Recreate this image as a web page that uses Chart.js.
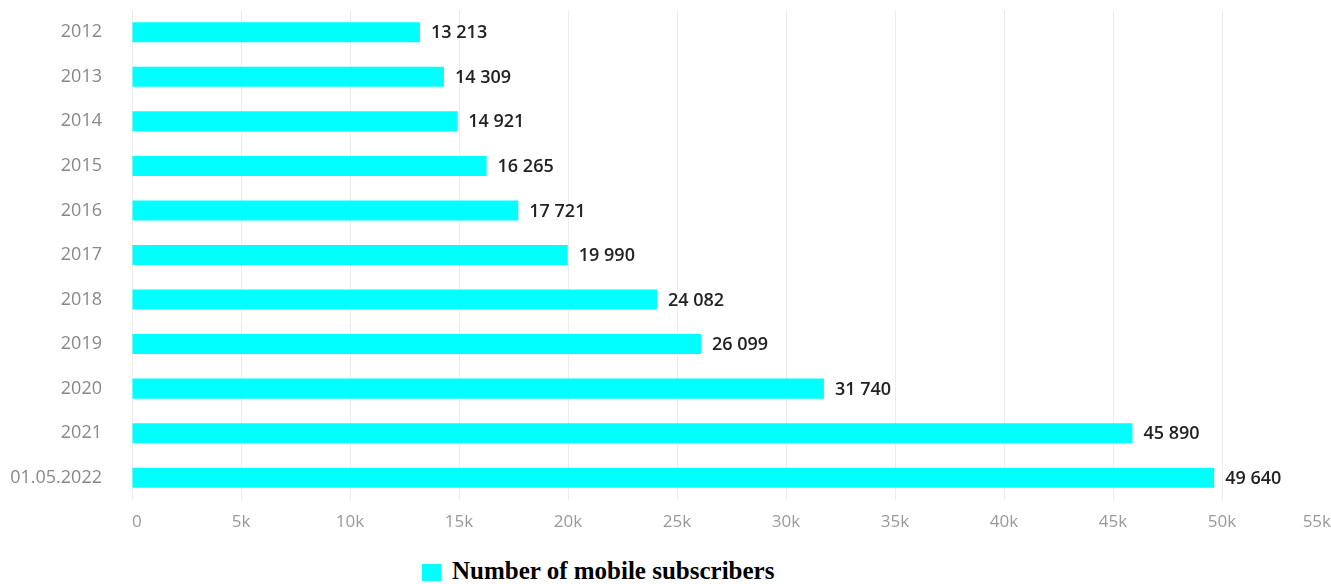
<!DOCTYPE html>
<html>
<head>
<meta charset="utf-8">
<script src="https://cdn.jsdelivr.net/npm/chart.js@4.4.0/dist/chart.umd.min.js"></script>
<style>
  html, body { margin: 0; padding: 0; background: #fff; }
  .wrap { position: relative; width: 1331px; height: 584px; }
  .chart-box { position: absolute; left: 0; top: 0; width: 1331px; height: 545px; }
  .legend { position: absolute; left: 422px; top: 557px; display: flex; align-items: center; line-height: 28px;
    font-family: "Liberation Serif", "DejaVu Serif", serif; font-weight: bold; font-size: 25px; color: #000; }
  .legend .sw { width: 19px; height: 17px; background: #00ffff; margin-right: 11px; margin-top: 3px; }
</style>
</head>
<body>
<div class="wrap">
  <div class="chart-box"><canvas id="chart"></canvas></div>
  <div class="legend"><span class="sw"></span><span>Number of mobile subscribers</span></div>
</div>
<script>
const categories = ['2012', '2013', '2014', '2015', '2016', '2017', '2018', '2019', '2020', '2021', '01.05.2022'];
const subscribers = [13213, 14309, 14921, 16265, 17721, 19990, 24082, 26099, 31740, 45890, 49640];
const seriesLabel = 'Number of mobile subscribers';

// nombres avec espace comme séparateur de milliers
const fmt = (v) => String(v).replace(/\B(?=(\d{3})+(?!\d))/g, ' ');

// étiquettes au bout des barres
const barLabels = {
  id: 'barLabels',
  afterDatasetsDraw(chart) {
    const ctx = chart.ctx;
    const meta = chart.getDatasetMeta(0);
    ctx.save();
    ctx.font = '600 18px "Open Sans", "DejaVu Sans", sans-serif';
    ctx.fillStyle = '#222';
    ctx.textAlign = 'left';
    ctx.textBaseline = 'middle';
    meta.data.forEach((bar, i) => {
      ctx.fillText(fmt(subscribers[i]), bar.x + 11, bar.y + 1);
    });
    ctx.restore();
  }
};

new Chart(document.getElementById('chart'), {
  type: 'bar',
  data: {
    labels: categories,
    datasets: [{
      label: seriesLabel,
      data: subscribers,
      backgroundColor: '#00ffff',
      borderWidth: 0,
      barPercentage: 0.45,
      categoryPercentage: 1
    }]
  },
  options: {
    indexAxis: 'y',
    responsive: true,
    maintainAspectRatio: false,
    animation: false,
    layout: { padding: { top: 10, right: 0, left: 0, bottom: 0 } },
    plugins: {
      legend: { display: false },
      tooltip: { enabled: false }
    },
    scales: {
      x: {
        min: 0,
        max: 55000,
        border: { display: false },
        grid: { color: '#ececec', drawTicks: false },
        ticks: {
          stepSize: 5000,
          align: 'inner',
          padding: 12,
          color: '#999',
          font: { family: '"Open Sans", "DejaVu Sans", sans-serif', size: 17 },
          callback: (v) => v === 0 ? '0' : (v / 1000) + 'k'
        },
        afterFit(s) { s.height = 45; s.paddingLeft = 0; s.paddingRight = 0; }
      },
      y: {
        border: { display: false },
        grid: { display: false },
        ticks: {
          padding: 22,
          color: '#888',
          font: { family: '"Open Sans", "DejaVu Sans", sans-serif', size: 18 }
        },
        afterFit(s) { s.width = 132; s.paddingTop = 0; s.paddingBottom = 0; }
      }
    }
  },
  plugins: [barLabels]
});
</script>
</body>
</html>
